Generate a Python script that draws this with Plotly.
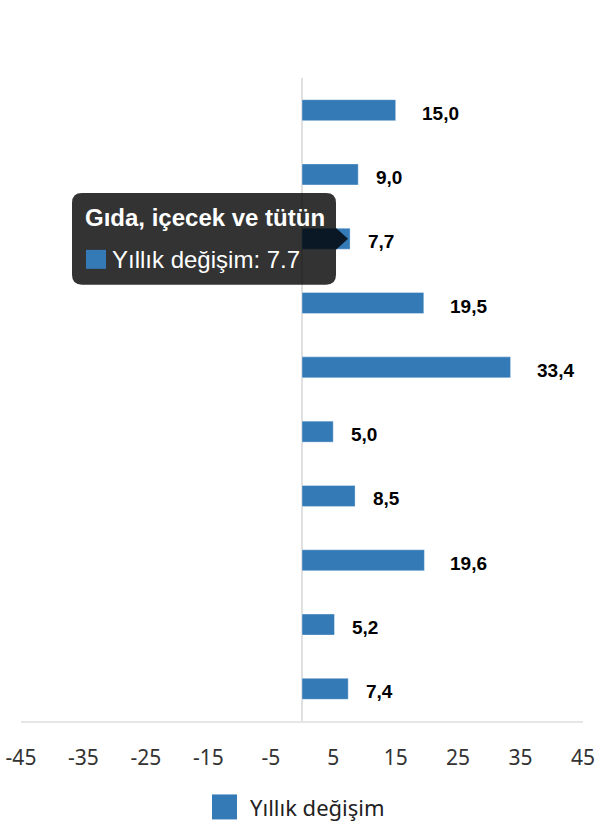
import plotly.graph_objects as go

categories = [
    "Tarım, ormancılık ve balıkçılık",
    "Madencilik ve taş ocakçılığı",
    "Gıda, içecek ve tütün",
    "Tekstil ve giyim",
    "Kok ve rafine petrol ürünleri",
    "Kimyasallar",
    "Ana metal sanayi",
    "Makine ve teçhizat",
    "Motorlu kara taşıtları",
    "Elektrik, gaz, buhar",
]
values = [15.0, 9.0, 7.7, 19.5, 33.4, 5.0, 8.5, 19.6, 5.2, 7.4]
value_labels = ["15,0", "9,0", "7,7", "19,5", "33,4", "5,0", "8,5", "19,6", "5,2", "7,4"]
tick_values = [-45, -35, -25, -15, -5, 5, 15, 25, 35, 45]
series_name = "Yıllık değişim"
hover_index = 2

BLUE = "#337ab7"
W, H = 600, 840
# plot area in page pixels: x 21..583, y 78..721.5
PL, PR, PT, PB = 21, 583, 78, 721.5
ML, MR, MT, MB = PL, W - PR, PT, H - PB
PW = PR - PL
PH = PB - PT


def px(x):
    return (x - PL) / PW


def py(y):
    return (PB - y) / PH


fig = go.Figure()
fig.add_trace(go.Bar(
    y=categories, x=values, orientation="h", name=series_name,
    marker=dict(color=BLUE, line=dict(color="rgba(255,255,255,0.35)", width=1)),
    hoverinfo="skip", showlegend=False,
))

annotations = []
for cat, v, lab in zip(categories, values, value_labels):
    annotations.append(dict(
        x=v, y=cat, xref="x", yref="y", text=f"<b>{lab}</b>", showarrow=False,
        xanchor="left", yanchor="middle", xshift=16 + 8 * (len(lab) - 3), yshift=-3,
        font=dict(family="Liberation Sans", size=19, color="#000000"),
    ))

shapes = []
# tooltip box (rounded) + arrow
x0, x1, y0, y1, r = px(72), px(336), py(193), py(285), 10
rx, ry = r / PW, r / PH
path = (
    f"M {x0+rx},{y0} L {x1-rx},{y0} Q {x1},{y0} {x1},{y0-ry} "
    f"L {x1},{py(228)} L {px(348)},{py(239)} L {x1},{py(250)} "
    f"L {x1},{y1+ry} Q {x1},{y1} {x1-rx},{y1} "
    f"L {x0+rx},{y1} Q {x0},{y1} {x0},{y1+ry} L {x0},{y0-ry} Q {x0},{y0} {x0+rx},{y0} Z"
)
shapes.append(dict(type="path", path=path, xref="paper", yref="paper",
                   fillcolor="rgba(0,0,0,0.8)", line=dict(width=0), layer="above"))
shapes.append(dict(type="rect", xref="paper", yref="paper",
                   x0=px(86), x1=px(106), y0=py(250), y1=py(269),
                   fillcolor=BLUE, line=dict(width=0), layer="above"))
annotations.append(dict(
    x=px(83), y=py(218), xref="paper", yref="paper", text=f"<b>{categories[hover_index]}</b>",
    showarrow=False, xanchor="left", yanchor="middle",
    font=dict(family="Liberation Sans", size=24, color="#ffffff"),
))
annotations.append(dict(
    x=px(110), y=py(260), xref="paper", yref="paper",
    text=f"{series_name}: {values[hover_index]}",
    showarrow=False, xanchor="left", yanchor="middle",
    font=dict(family="Liberation Sans", size=24, color="#ffffff"),
))

# legend
shapes.append(dict(type="rect", xref="paper", yref="paper",
                   x0=px(212), x1=px(237), y0=py(795), y1=py(820),
                   fillcolor=BLUE, line=dict(width=0)))
annotations.append(dict(
    x=px(248), y=py(808), xref="paper", yref="paper", text=series_name,
    showarrow=False, xanchor="left", yanchor="middle",
    font=dict(family="Noto Sans", size=22, color="#222222"),
))

fig.update_layout(
    width=W, height=H,
    margin=dict(l=ML, r=MR, t=MT, b=MB, autoexpand=False, pad=0),
    paper_bgcolor="white", plot_bgcolor="white",
    bargap=0.674,
    showlegend=False,
    hovermode=False,
    xaxis=dict(
        range=[-45, 45], tickvals=tick_values, ticktext=[str(t) for t in tick_values],
        showgrid=False, zeroline=True, zerolinecolor="#e0e0e0", zerolinewidth=2,
        showline=True, linecolor="#e6e6e6", linewidth=2, automargin=False,
        ticks="outside", ticklen=17, tickcolor="rgba(0,0,0,0)",
        ticklabeloverflow="allow",
        tickfont=dict(family="Noto Sans", size=21, color="#333333"),
        fixedrange=True,
    ),
    yaxis=dict(
        autorange="reversed", showticklabels=False, showgrid=False, automargin=False,
        zeroline=False, showline=False, ticks="", fixedrange=True,
    ),
    shapes=shapes,
    annotations=annotations,
)

fig.write_html(
    "out.html",
    config={"displayModeBar": False},
    post_script="document.body.style.margin='0';document.body.style.overflow='hidden';",
)
